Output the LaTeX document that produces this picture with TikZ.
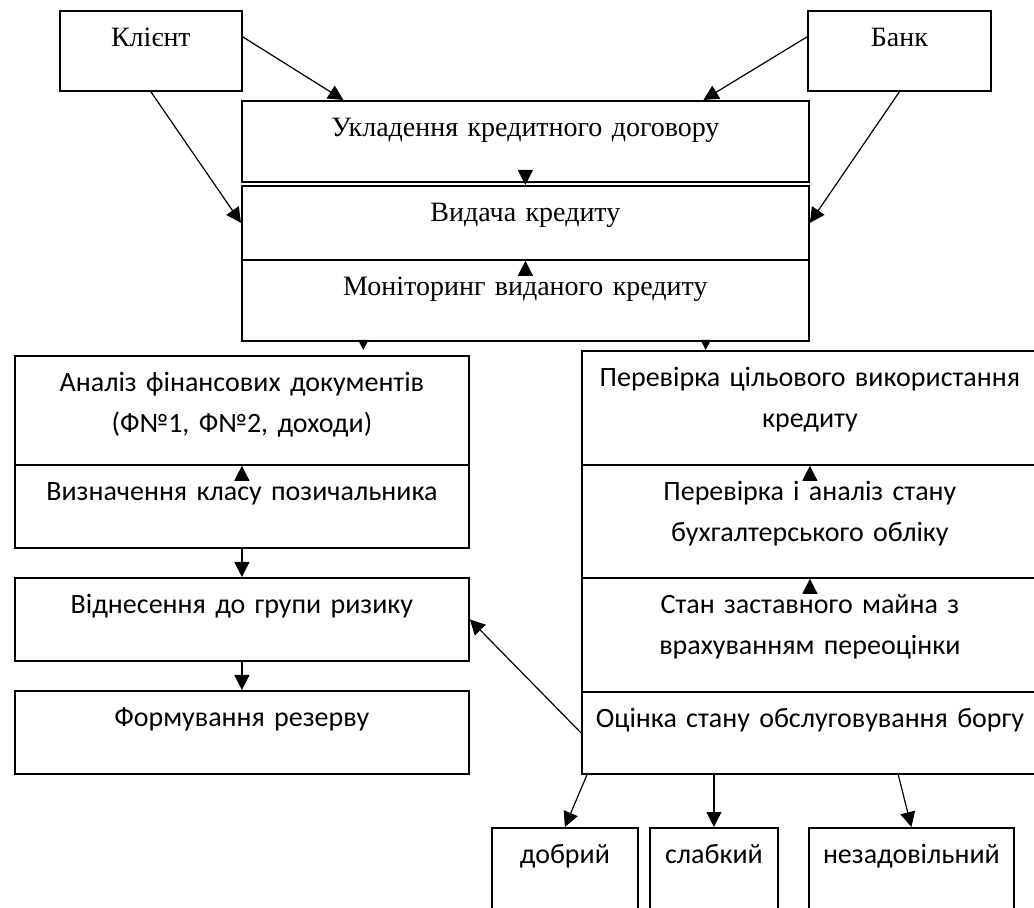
\documentclass[tikz,border=0pt]{standalone}
\usepackage{fontspec}
\setmainfont{Liberation Serif}
\newfontfamily\calibri{Carlito}
\usetikzlibrary{arrows.meta,calc}

\begin{document}
\begin{tikzpicture}[x=0.5pt,y=-0.5pt,
    box/.style={draw,line width=0.9pt,anchor=north west,inner sep=0pt},
    rm/.style={anchor=north,inner sep=0pt,text width=#1,align=center,
      font=\fontsize{14}{20.5}\selectfont,execute at begin node=\strut},
    sf/.style={rm=#1,font=\calibri\fontsize{14}{20.5}\selectfont},
    arr/.style={line width=0.6pt,-{Triangle[length=7.5pt,width=7.5pt]}},
    arrsm/.style={line width=0.6pt,-{Triangle[length=5pt,width=5pt]}}]
  \useasboundingbox (0,0) rectangle (1034,908);
  \clip (0,0) rectangle (1034,908);
  % сторони договору
  \node[box,minimum width=91pt,minimum height=40pt] (kl) at (59,10) {};
  \node[box,minimum width=91.5pt,minimum height=40pt] (bank) at (807,10) {};
  \node[rm=90pt] (klt) at ([yshift=-3.6pt]kl.north) {Клієнт};
  \node[rm=90pt] (bankt) at ([yshift=-3.6pt]bank.north) {Банк};
  % етапи кредитування
  \node[box,minimum width=283.5pt,minimum height=40.5pt] (ukl) at (241,100) {};
  \node[box,minimum width=283.5pt,minimum height=37pt] (vyd) at (241,185) {};
  \node[box,minimum width=283.5pt,minimum height=40.5pt] (mon) at (241,259) {};
  \node[rm=280pt] (uklt) at ([yshift=-3.6pt]ukl.north) {Укладення кредитного договору};
  \node[rm=280pt] (vydt) at ([yshift=-3.6pt]vyd.north) {Видача кредиту};
  \node[rm=280pt] (mont) at ([yshift=-3.6pt]mon.north) {Моніторинг виданого кредиту};
  % ліва гілка
  \node[box,minimum width=227pt,minimum height=54.5pt] (an) at (14,355) {};
  \node[box,minimum width=227pt,minimum height=41.5pt] (vyz) at (14,464) {};
  \node[box,minimum width=227pt,minimum height=41.5pt] (vidn) at (14,577) {};
  \node[box,minimum width=227pt,minimum height=41.5pt] (form) at (14,690) {};
  \node[sf=225pt] (ant) at ([yshift=-3.6pt]an.north) {Аналіз фінансових документів\\(Ф№1, Ф№2, доходи)};
  \node[sf=225pt] (vyzt) at ([yshift=-3.6pt]vyz.north) {Визначення класу позичальника};
  \node[sf=225pt] (vidnt) at ([yshift=-3.6pt]vidn.north) {Віднесення до групи ризику};
  \node[sf=225pt] (formt) at ([yshift=-3.6pt]form.north) {Формування резерву};
  % права гілка
  \node[box,minimum width=228pt,minimum height=57pt] (cil) at (581,350) {};
  \node[box,minimum width=228pt,minimum height=56.5pt] (buh) at (581,464) {};
  \node[box,minimum width=228pt,minimum height=57pt] (zast) at (581,577) {};
  \node[box,minimum width=228pt,minimum height=41pt] (bor) at (581,691) {};
  \node[sf=226pt] (cilt) at ([yshift=-3.6pt]cil.north) {Перевірка цільового використання\\кредиту};
  \node[sf=226pt] (buht) at ([yshift=-3.6pt]buh.north) {Перевірка і аналіз стану\\бухгалтерського обліку};
  \node[sf=226pt] (zastt) at ([yshift=-3.6pt]zast.north) {Стан заставного майна з\\врахуванням переоцінки};
  \node[sf=226pt] (bort) at ([yshift=-3.6pt]bor.north) {Оцінка стану обслуговування боргу};
  % стан обслуговування боргу
  \node[box,minimum width=73pt,minimum height=50pt] (dob) at (491,827) {};
  \node[box,minimum width=64pt,minimum height=50pt] (sl) at (649,827) {};
  \node[box,minimum width=102.5pt,minimum height=50pt] (nez) at (808,827) {};
  \node[sf=72pt] (dobt) at ([yshift=-3.6pt]dob.north) {добрий};
  \node[sf=63pt] (slt) at ([yshift=-3.6pt]sl.north) {слабкий};
  \node[sf=100pt] (nezt) at ([yshift=-3.6pt]nez.north) {незадовільний};
  % стрілки
  \draw[arr] ([yshift=7pt]kl.east) -- ($(ukl.north west)!0.18!(ukl.north east)$);
  \draw[arr] (kl.south) -- (vyd.west);
  \draw[arr] ([yshift=7pt]bank.west) -- ($(ukl.north west)!0.813!(ukl.north east)$);
  \draw[arr] (bank.south) -- (vyd.east);
  \draw[arr] ([yshift=5.5pt]ukl.south) -- (vyd.north);
  \draw[arr] ([yshift=-7.5pt]mon.north) -- (vyd.south);
  \coordinate (m1) at ($(mon.south west)!0.215!(mon.south east)$);
  \coordinate (m2) at ($(mon.south west)!0.817!(mon.south east)$);
  \draw[arrsm] (m1) -- (m1 |- cil.north);
  \draw[arrsm] (m2) -- (m2 |- cil.north);
  \draw[arr] ([yshift=-7.5pt]vyz.north) -- (an.south);
  \draw[arr] (vyz.south) -- (vidn.north);
  \draw[arr] (vidn.south) -- (form.north);
  \draw[arr] ([yshift=-7.5pt]buh.north) -- (cil.south);
  \draw[arr] ([yshift=-7.5pt]zast.north) -- (buh.south);
  \draw[arr] (bor.west) -- (vidn.east);
  \draw[arr] ($(bor.south west)!0.013!(bor.south east)$) -- (dob.north);
  \draw[arr] (sl.north |- bor.south) -- (sl.north);
  \draw[arr] ($(bor.south west)!0.693!(bor.south east)$) -- (nez.north);
\end{tikzpicture}
\end{document}
